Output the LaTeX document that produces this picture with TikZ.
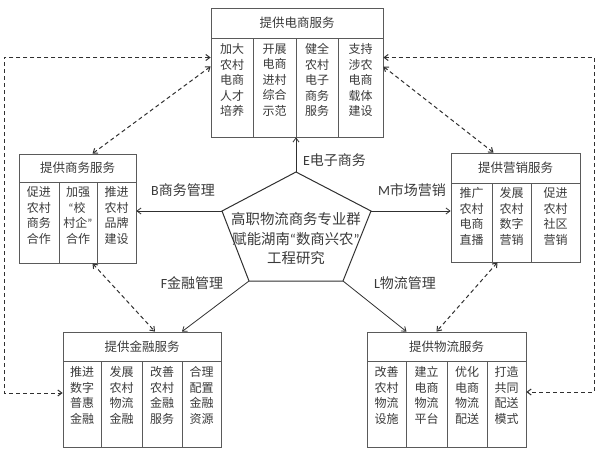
\documentclass[tikz,border=0pt]{standalone}
\usepackage{fontspec}
\setmainfont{Noto Sans CJK SC}
\newfontfamily\latfont{Carlito}
\usetikzlibrary{arrows.meta}
\definecolor{boxgray}{HTML}{5A5A5A}
\definecolor{txtgray}{HTML}{3A3A3A}
\definecolor{dashgray}{HTML}{303030}
\newcommand{\qopen}{{\latfont “}}
\newcommand{\qclose}{{\latfont ”}}

\begin{document}
\begin{tikzpicture}[x=1pt,y=-1pt]
\tikzset{
  svcbox/.style={draw=boxgray,line width=0.8pt,inner sep=0pt},
  divline/.style={draw=boxgray,line width=0.8pt},
  headtxt/.style={text=txtgray,font=\fontsize{12.5}{15}\selectfont,inner sep=0pt},
  coltxt/.style={text=txtgray,font=\fontsize{12}{15.5}\selectfont,align=center,anchor=north,inner sep=0pt},
  coretxt/.style={text=txtgray,font=\fontsize{14.4}{19.5}\selectfont,align=center,inner sep=0pt},
  lbltxt/.style={text=txtgray,font=\fontsize{14}{16}\selectfont,inner sep=0pt},
  sflow/.style={-{Straight Barb[length=4pt,width=6pt]},draw=dashgray,line width=0.8pt},
  dlink/.style={{Straight Barb[length=4pt,width=6pt]}-{Straight Barb[length=4pt,width=6pt]},draw=dashgray,line width=1pt,dash pattern=on 4pt off 3pt}
}
\useasboundingbox (0,0) rectangle (600,450);
\node[svcbox,minimum width=172pt,minimum height=129pt] (eBox) at (297,72.5) {};
\node[svcbox,minimum width=117pt,minimum height=109pt] (bBox) at (77.5,208.5) {};
\node[svcbox,minimum width=129pt,minimum height=109pt] (mBox) at (515.5,207.5) {};
\node[svcbox,minimum width=158pt,minimum height=115pt] (fBox) at (142,389.5) {};
\node[svcbox,minimum width=159pt,minimum height=115pt] (lBox) at (446.5,389.5) {};
\node[headtxt] (eHead) at (297,23) {提供电商服务};
\node[headtxt] (bHead) at (77.5,168) {提供商务服务};
\node[headtxt] (mHead) at (515.5,168) {提供营销服务};
\node[headtxt] (fHead) at (142,346.5) {提供金融服务};
\node[headtxt] (lHead) at (446.5,346.5) {提供物流服务};
\draw[divline] (211,38) -- (383,38);
\draw[divline] (19,182) -- (136,182);
\draw[divline] (451,183) -- (580,183);
\draw[divline] (63,361) -- (221,361);
\draw[divline] (367,361) -- (526,361);
\foreach \cx in {253,296,338} \draw[divline] (\cx,38) -- (\cx,137);
\foreach \cx in {59,97} \draw[divline] (\cx,182) -- (\cx,263);
\foreach \cx in {492,531} \draw[divline] (\cx,183) -- (\cx,262);
\foreach \cx in {101,142,182} \draw[divline] (\cx,361) -- (\cx,447);
\foreach \cx in {406,447,487} \draw[divline] (\cx,361) -- (\cx,447);
\node[coltxt] (e1) at (232,43.5) {加大\\农村\\电商\\人才\\培养};
\node[coltxt] (e2) at (274.5,43.5) {开展\\电商\\进村\\综合\\示范};
\node[coltxt] (e3) at (317,43.5) {健全\\农村\\电子\\商务\\服务};
\node[coltxt] (e4) at (360.5,43.5) {支持\\涉农\\电商\\载体\\建设};
\node[coltxt] (b1) at (39,186.5) {促进\\农村\\商务\\合作};
\node[coltxt] (b2) at (78,186.5) {加强\\\qopen 校\,\\村企\qclose\\合作};
\node[coltxt] (b3) at (116.5,186.5) {推进\\农村\\品牌\\建设};
\node[coltxt] (m1) at (471.5,187.5) {推广\\农村\\电商\\直播};
\node[coltxt] (m2) at (511.5,187.5) {发展\\农村\\数字\\营销};
\node[coltxt] (m3) at (555.5,187.5) {促进\\农村\\社区\\营销};
\node[coltxt] (f1) at (82,366.5) {推进\\数字\\普惠\\金融};
\node[coltxt] (f2) at (121.5,366.5) {发展\\农村\\物流\\金融};
\node[coltxt] (f3) at (162,366.5) {改善\\农村\\金融\\服务};
\node[coltxt] (f4) at (201.5,366.5) {合理\\配置\\金融\\资源};
\node[coltxt] (l1) at (386.5,366.5) {改善\\农村\\物流\\设施};
\node[coltxt] (l2) at (426.5,366.5) {建立\\电商\\物流\\平台};
\node[coltxt] (l3) at (467,366.5) {优化\\电商\\物流\\配送};
\node[coltxt] (l4) at (506.5,366.5) {打造\\共同\\配送\\模式};
\coordinate (pTop) at (296,172);
\coordinate (pUL) at (222,211);
\coordinate (pUR) at (371,211);
\coordinate (pLL) at (249,281);
\coordinate (pLR) at (343,281);
\draw[draw=dashgray,line width=1pt] (pTop) -- (pUR) -- (pLR) -- (pLL) -- (pUL) -- cycle;
\node[coretxt] (core) at (296,239) {高职物流商务专业群\\赋能湖南\qopen 数商兴农\qclose\\工程研究};
\draw[sflow] (pTop) -- (pTop |- eBox.south);
\draw[sflow] (pUL) -- (pUL -| bBox.east);
\draw[sflow] (pUR) -- (pUR -| mBox.west);
\draw[sflow] (pLL) -- ([xshift=40pt]fBox.north);
\draw[sflow] (pLR) -- ([xshift=-40pt]lBox.north);
\node[lbltxt] (eLbl) at (334.5,160) {{\latfont E}电子商务};
\node[lbltxt] (bLbl) at (183,190) {{\latfont B}商务管理};
\node[lbltxt] (mLbl) at (412,190) {{\latfont M}市场营销};
\node[lbltxt] (fLbl) at (192,283) {{\latfont F}金融管理};
\node[lbltxt] (lLbl) at (405,283) {{\latfont L}物流管理};
\coordinate (lftBot) at (4,393);
\coordinate (rgtBot) at (594,392);
\draw[dlink] ([yshift=6pt]eBox.west) -- ([xshift=15pt]bBox.north);
\draw[dlink] ([yshift=6pt]eBox.east) -- ([xshift=-22pt]mBox.north);
\draw[dlink] ([xshift=15pt]bBox.south) -- ([xshift=13pt]fBox.north);
\draw[dlink] ([xshift=-18pt]mBox.south) -- ([xshift=-10pt]lBox.north);
\draw[dlink] ([yshift=15pt]eBox.west) -| (lftBot) -- (lftBot -| fBox.west);
\draw[dlink] ([yshift=15pt]eBox.east) -| (rgtBot) -- (rgtBot -| lBox.east);
\end{tikzpicture}
\end{document}
